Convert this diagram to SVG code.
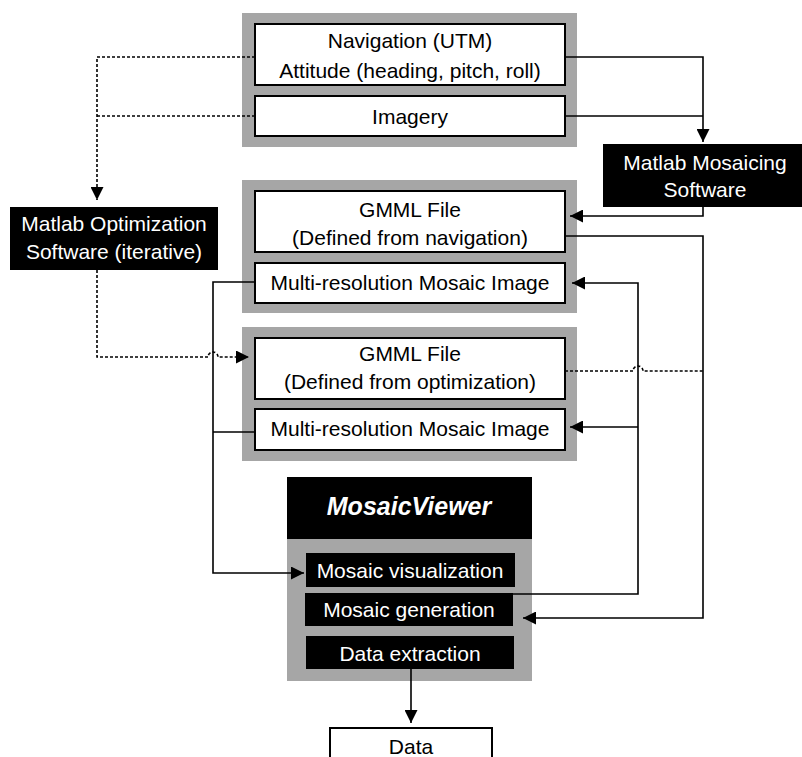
<svg xmlns="http://www.w3.org/2000/svg" width="802" height="757" viewBox="0 0 802 757">
<defs>
<marker id="ah" viewBox="0 0 13 13" refX="13" refY="6.5" markerWidth="13" markerHeight="13" markerUnits="userSpaceOnUse" orient="auto">
<path d="M0,0 L13,6.5 L0,13 Z" fill="#000"/>
</marker>
</defs>
<style>
.panel{fill:#a6a6a6}
.wbox{fill:#fff;stroke:#000;stroke-width:2}
.bbox{fill:#000}
.t{font-family:"Liberation Sans",Arial,sans-serif;font-size:21px;fill:#000;text-anchor:middle}
.tw{font-family:"Liberation Sans",Arial,sans-serif;font-size:21px;fill:#fff;text-anchor:middle}
.solid{fill:none;stroke:#000;stroke-width:1.6}
.dot{fill:none;stroke:#000;stroke-width:1.6;stroke-dasharray:3 2}
</style>
<g id="source">
<rect class="panel" x="242" y="13" width="335" height="134"/>
<g id="nav">
<rect class="wbox" x="255" y="24" width="310" height="61"/>
<text class="t" x="410" y="48">Navigation (UTM)</text>
<text class="t" x="410" y="78">Attitude (heading, pitch, roll)</text>
</g>
<g id="imagery">
<rect class="wbox" x="255" y="96" width="310" height="40"/>
<text class="t" x="410" y="124">Imagery</text>
</g>
</g>
<g id="mosaicing">
<rect class="bbox" x="603" y="144" width="199" height="63"/>
<text class="tw" x="705" y="170">Matlab Mosaicing</text>
<text class="tw" x="705" y="197">Software</text>
</g>
<g id="optimization">
<rect class="bbox" x="10" y="207" width="208" height="63"/>
<text class="tw" x="114" y="231">Matlab Optimization</text>
<text class="tw" x="114" y="259">Software (iterative)</text>
</g>
<g id="navset">
<rect class="panel" x="242" y="180" width="335" height="133"/>
<g id="gmml-nav">
<rect class="wbox" x="255" y="191" width="310" height="61"/>
<text class="t" x="410" y="217">GMML File</text>
<text class="t" x="410" y="245">(Defined from navigation)</text>
</g>
<g id="mosaic-nav">
<rect class="wbox" x="255" y="263" width="310" height="40"/>
<text class="t" x="410" y="290">Multi-resolution Mosaic Image</text>
</g>
</g>
<g id="optset">
<rect class="panel" x="242" y="327" width="335" height="134"/>
<g id="gmml-opt">
<rect class="wbox" x="255" y="338" width="310" height="61"/>
<text class="t" x="410" y="361">GMML File</text>
<text class="t" x="410" y="389">(Defined from optimization)</text>
</g>
<g id="mosaic-opt">
<rect class="wbox" x="255" y="409" width="310" height="41"/>
<text class="t" x="410" y="436">Multi-resolution Mosaic Image</text>
</g>
</g>
<g id="viewer">
<rect class="bbox" x="287" y="477" width="245" height="62"/>
<text class="tw" x="409" y="515" style="font-weight:bold;font-style:italic;font-size:25px">MosaicViewer</text>
<rect class="panel" x="287" y="539" width="245" height="142"/>
<g id="visualization">
<rect class="bbox" x="306" y="553" width="209" height="34"/>
<text class="tw" x="410" y="578">Mosaic visualization</text>
</g>
<g id="generation">
<rect class="bbox" x="305" y="593" width="208" height="33"/>
<text class="tw" x="409" y="617">Mosaic  generation</text>
</g>
<g id="extraction">
<rect class="bbox" x="306" y="636" width="208" height="33"/>
<text class="tw" x="410" y="661">Data extraction</text>
</g>
</g>
<g id="data">
<rect class="wbox" x="330" y="728" width="162" height="50"/>
<text class="t" x="411" y="754">Data</text>
</g>
<g id="connectors">
<path class="dot" d="M255,57 H97 V200" marker-end="url(#ah)"/>
<path class="dot" d="M255,116 H97"/>
<path class="solid" d="M565,57 H703 V142" marker-end="url(#ah)"/>
<path class="solid" d="M565,116 H703"/>
<path class="solid" d="M703,207 V216 H570" marker-end="url(#ah)"/>
<path class="solid" d="M565,236 H703 V618 H523" marker-end="url(#ah)"/>
<path class="solid" d="M513,594 H638 V283 H572" marker-end="url(#ah)"/>
<path class="solid" d="M638,427 H570" marker-end="url(#ah)"/>
<path class="dot" d="M565,371 H633 A5,5 0 0 1 643,371 H703"/>
<path class="dot" d="M97,270 V357 H208 A5,5 0 0 1 218,357 H249" marker-end="url(#ah)"/>
<path class="solid" d="M255,282 H213 V573 H304" marker-end="url(#ah)"/>
<path class="solid" d="M255,432 H213"/>
<path class="solid" d="M411,669 V723" marker-end="url(#ah)"/>
</g>
</svg>
